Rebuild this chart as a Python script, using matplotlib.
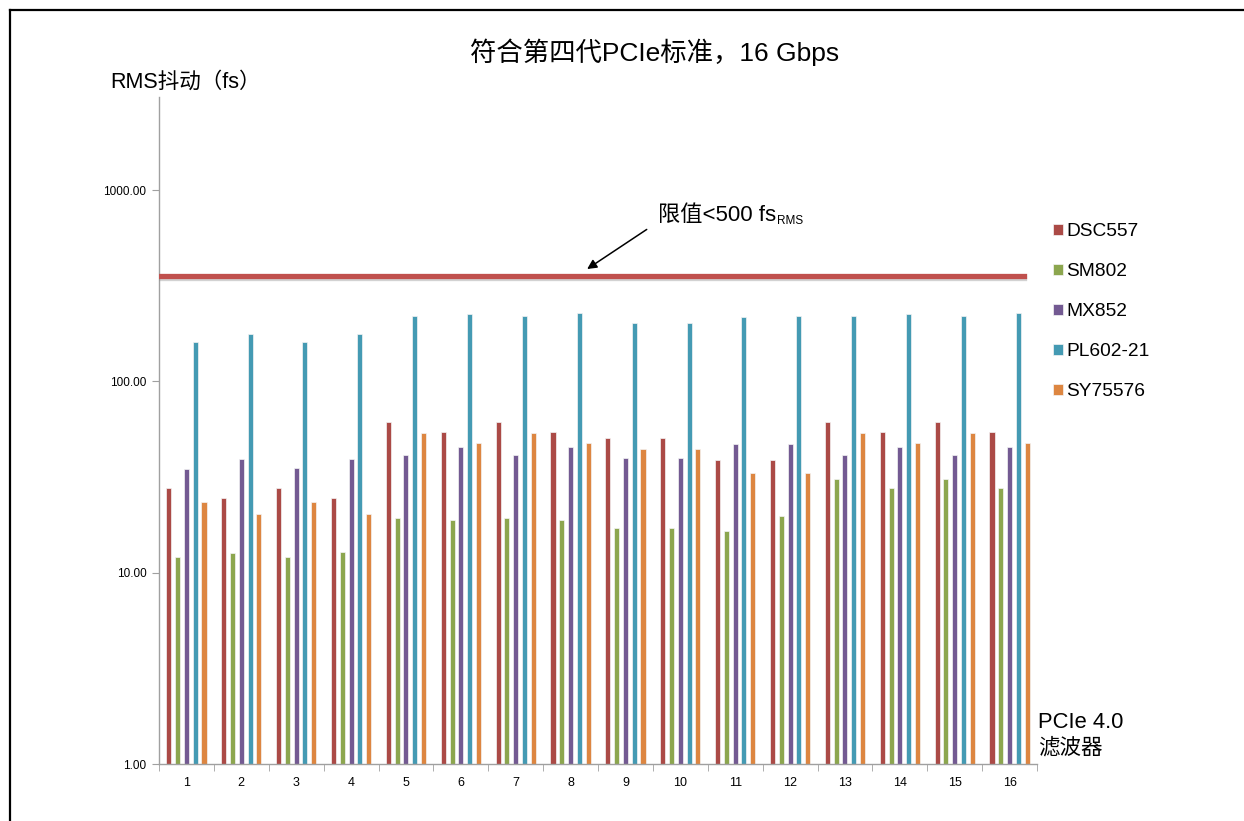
import numpy as np
import matplotlib
matplotlib.use('Agg')
import matplotlib.pyplot as plt
import matplotlib.patheffects as pe
from matplotlib.lines import Line2D

plt.rcParams['font.family'] = ['Liberation Sans', 'Noto Sans CJK SC', 'DejaVu Sans']

# ---------
#   data
# ---------
filters = [str(i) for i in range(1, 17)]
series = ['DSC557', 'SM802', 'MX852', 'PL602-21', 'SY75576']
colors = ['#AB4A46', '#8CA64E', '#735A92', '#449AB3', '#DD8641']

dsc557 = [27.6, 24.5, 27.6, 24.5, 61.4, 54.4, 61.4, 54.4, 50.6, 50.6, 38.7, 38.7, 61.4, 54.4, 61.4, 54.4]
sm802 = [12.1, 12.7, 12.1, 12.8, 19.4, 18.9, 19.4, 18.9, 17.1, 17.2, 16.6, 19.9, 30.8, 27.6, 30.8, 27.6]
mx852 = [35.0, 39.4, 35.2, 39.4, 41.1, 45.4, 41.3, 45.4, 39.8, 39.8, 46.9, 46.9, 41.1, 45.4, 41.3, 45.4]
pl602 = [161, 177, 161, 177, 220, 225, 220, 227, 201, 201, 217, 220, 220, 225, 220, 227]
sy75576 = [23.3, 20.3, 23.3, 20.3, 53.6, 47.8, 53.9, 47.8, 44.3, 44.3, 33.3, 33.3, 53.6, 47.8, 53.9, 47.6]
values = [dsc557, sm802, mx852, pl602, sy75576]

limit = 357

W, H = 1244, 821
fig = plt.figure(figsize=[W / 100, H / 100], dpi=100)
ax = fig.add_axes([159 / W, 1 - 764 / H, 878 / W, 667 / H])

x = np.arange(len(filters))
pitch = 0.16
width = 0.092
handles = []
for i, (name, vals, c) in enumerate(zip(series, values, colors)):
    b = ax.bar(x + (i - 2) * pitch, vals, width, bottom=0, color=c,
               edgecolor='#f4f4f4', linewidth=0.5, label=name, zorder=2)
    handles.append(b)

ax.set_yscale('log')
ax.set_ylim(1, 3070)
ax.set_xlim(-0.5, len(filters) - 0.5)
ax.set_yticks([1, 10, 100, 1000])
ax.set_yticklabels(['%.2f' % v for v in [1, 10, 100, 1000]])
ax.yaxis.set_minor_locator(matplotlib.ticker.NullLocator())
ax.set_xticks(x)
ax.set_xticklabels(filters)
ax.set_xticks(np.arange(len(filters) + 1) - 0.5, minor=True)
ax.tick_params(axis='x', which='major', length=0, labelsize=9, pad=9)
ax.tick_params(axis='x', which='minor', length=5, color='#a0a0a0', direction='out')
ax.tick_params(axis='y', which='major', length=5, color='#a0a0a0', labelsize=8.5, pad=4)
for s in ['top', 'right']:
    ax.spines[s].set_visible(False)
for s in ['left', 'bottom']:
    ax.spines[s].set_color('#a0a0a0')
    ax.spines[s].set_linewidth(1)

# limit line with shadow
ax.axhline(limit, xmin=0, xmax=(1024 - 159) / 878, color='#C0504D', linewidth=3.8, zorder=3,
           path_effects=[pe.SimpleLineShadow(offset=(0, -1.8), shadow_color='#909090', alpha=0.4),
                         pe.Normal()])

ax.annotate('', xy=(7.26, 380), xytext=(8.43, 635),
            arrowprops=dict(arrowstyle='-|>', color='black', lw=1.1, mutation_scale=14))
t = ax.text(8.6, 740, '限值<500 fs', fontsize=16, va='center', ha='left')
ax.annotate('RMS', xy=(1, 0), xycoords=t, xytext=(0.5, -1), textcoords='offset points',
            fontsize=8.5, va='bottom', ha='left')

# legend
fig.legend(handles=handles, labels=series, loc='upper left',
           bbox_to_anchor=(1053 / W, 1 - 223 / H), frameon=False, fontsize=13.8,
           handlelength=0.5, handleheight=0.5, handletextpad=0.2, labelspacing=1.2,
           borderpad=0, borderaxespad=0)

fig.text(655 / W, 1 - 52 / H, '符合第四代PCIe标准，16 Gbps', fontsize=19, ha='center', va='center')
fig.text(110 / W, 1 - 82 / H, 'RMS抖动（fs）', fontsize=15.5, ha='left', va='center')
fig.text(1038 / W, 1 - 722 / H, 'PCIe 4.0', fontsize=15.8, ha='left', va='center')
fig.text(1038 / W, 1 - 748 / H, '滤波器', fontsize=15.5, ha='left', va='center')

# border
fig.add_artist(Line2D([10 / W, 1], [1 - 10 / H, 1 - 10 / H], color='black', linewidth=1.6,
                      transform=fig.transFigure))
fig.add_artist(Line2D([10 / W, 10 / W], [1 - 10 / H, 0], color='black', linewidth=1.6,
                      transform=fig.transFigure))

plt.savefig('out.png', dpi=100, facecolor='white')
plt.close()
